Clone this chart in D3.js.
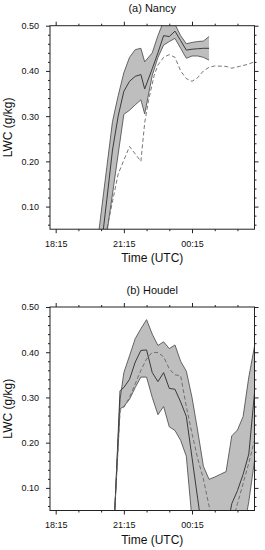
<!DOCTYPE html>
<html>
<head>
<meta charset="utf-8">
<script src="https://cdn.jsdelivr.net/npm/d3@7"></script>
<style>
  body { margin: 0; background: #fff; }
  svg { display: block; font-family: "Liberation Sans", Arial, Helvetica, sans-serif; }
</style>
</head>
<body>
<svg width="265" height="550"></svg>
<script>
// (a) Nancy: ensemble mean, +/- spread, and observation (dashed)
const nancyTimes = ["20:00","20:15","20:30","20:45","21:00","21:15","21:30","21:45","22:00","22:10","22:30",
  "22:45","23:00","23:15","23:30","23:45","00:00","00:15","00:30","00:45","01:00"];
const nancyUpper = [-0.015,0.086,0.187,0.288,0.345,0.396,0.43,0.447,0.45,0.42,0.44,
  0.478,0.51,0.52,0.503,0.478,0.46,0.463,0.465,0.466,0.476];
const nancyMean = [-0.1,0.008,0.115,0.225,0.3,0.355,0.377,0.388,0.392,0.36,0.405,
  0.44,0.478,0.476,0.488,0.467,0.446,0.448,0.449,0.45,0.45];
const nancyLower = [-0.14,-0.05,0.04,0.128,0.216,0.304,0.313,0.325,0.336,0.305,0.39,
  0.43,0.457,0.465,0.472,0.45,0.428,0.433,0.433,0.43,0.424];
const nancyObsTimes = ["20:00","20:30","21:00","21:30","22:00","22:10","22:20","22:35","22:45","23:00","23:15","23:30",
  "23:45","00:00","00:15","00:30","00:45","01:00","01:15","01:45","02:00","02:20","02:40","03:00"];
const nancyObs = [-0.06,0.05,0.172,0.233,0.2,0.285,0.334,0.39,0.413,0.43,0.436,0.43,
  0.4,0.383,0.377,0.385,0.4,0.408,0.411,0.41,0.406,0.41,0.414,0.42];

// (b) Houdel
const houdelTimes = ["20:51","21:05","21:15","21:30","21:45","22:00","22:15","22:30","22:45","23:00","23:15","23:30","23:45",
  "00:00","00:15","00:30","00:45","01:00","01:15","01:30","01:45","02:00","02:15","02:30","02:45","03:00"];
const houdelUpper = [0.05,0.295,0.355,0.392,0.43,0.452,0.472,0.44,0.415,0.423,0.408,0.416,0.38,
  0.358,0.3,0.226,0.148,0.119,0.124,0.13,0.136,0.215,0.228,0.258,0.345,0.413];
const houdelMean = [0.05,0.315,0.322,0.34,0.378,0.404,0.405,0.355,0.335,0.355,0.32,0.318,0.29,
  0.258,0.167,0.076,-0.015,-0.02,-0.02,-0.02,0.0,0.065,0.094,0.13,0.175,0.31];
const houdelLower = [0.05,0.275,0.28,0.296,0.322,0.345,0.345,0.3,0.262,0.28,0.235,0.227,0.205,
  0.17,0.03,0,0,0,0,0,0,0,0,0,0.07,0.16];
const houdelObs = [0.05,0.27,0.278,0.3,0.33,0.36,0.385,0.4,0.399,0.39,0.363,0.35,0.348,
  0.28,0.22,0.165,0.12,0.06,0,0,0,0.02,0.065,0.11,0.155,0.205];

const xMajorLabels = ["18:15","21:15","00:15"];
const xMinorLabels = ["19:15","20:15","22:15","23:15","01:15","02:15"];
const yMajor = [0.1,0.2,0.3,0.4,0.5];
const yMinor = [0.06,0.08,0.12,0.14,0.16,0.18,0.22,0.24,0.26,0.28,0.32,0.34,0.36,0.38,0.42,0.44,0.46,0.48];

// times after midnight belong to the next day
const parseT = s => {
  const [H, M] = s.split(":").map(Number);
  return new Date(2000, 0, H < 12 ? 2 : 1, H, M);
};

const svg = d3.select("svg");
const left = 50, right = 254.5, plotH = 203.5;

const x = d3.scaleTime()
  .domain([parseT("18:00"), parseT("03:00")])
  .range([left, right]);
const y = d3.scaleLinear().domain([0.05, 0.5]).range([plotH, 0]);

function drawPanel(id, title, top, times, upper, mean, lower, obsTimes, obs) {
  const g = svg.append("g").attr("transform", `translate(0,${top})`);

  g.append("clipPath").attr("id", id)
    .append("rect").attr("x", left).attr("y", 0).attr("width", right - left).attr("height", plotH);

  const rows = times.map((t, i) => ({t: parseT(t), hi: upper[i], m: mean[i], lo: lower[i]}));
  const obsRows = obsTimes.map((t, i) => ({t: parseT(t), v: obs[i]}));

  const plot = g.append("g").attr("clip-path", `url(#${id})`);

  plot.append("path").datum(rows)
    .attr("fill", "#bebebe")
    .attr("d", d3.area().x(d => x(d.t)).y0(d => y(d.lo)).y1(d => y(d.hi)));

  const line = key => d3.line().x(d => x(d.t)).y(d => y(d[key]));

  ["hi", "lo"].forEach(k => {
    plot.append("path").datum(rows)
      .attr("fill", "none").attr("stroke", "#555").attr("stroke-width", 0.9)
      .attr("d", line(k));
  });
  plot.append("path").datum(rows)
    .attr("fill", "none").attr("stroke", "#3a3a3a").attr("stroke-width", 1)
    .attr("d", line("m"));
  plot.append("path").datum(obsRows)
    .attr("fill", "none").attr("stroke", "#666").attr("stroke-width", 0.9)
    .attr("stroke-dasharray", "4,2.5")
    .attr("d", line("v"));

  // axes: major + minor, ticks outward on all four sides
  const xMajor = xMajorLabels.map(parseT), xMinor = xMinorLabels.map(parseT);
  const fmt = d3.timeFormat("%H:%M");

  const addAxis = (axis, tr) => {
    const a = g.append("g").attr("transform", tr).call(axis);
    a.select(".domain").remove();
    a.selectAll("line").attr("stroke", "#222");
    a.selectAll("text").attr("font-size", 9).attr("fill", "#111")
      .attr("font-family", "'Liberation Sans', Arial, sans-serif");
    return a;
  };

  addAxis(d3.axisBottom(x).tickValues(xMajor).tickFormat(fmt).tickSize(4).tickPadding(7.5), `translate(0,${plotH})`);
  addAxis(d3.axisBottom(x).tickValues(xMinor).tickFormat("").tickSize(2), `translate(0,${plotH})`);
  addAxis(d3.axisTop(x).tickValues(xMajor).tickFormat("").tickSize(4), "translate(0,0)");
  addAxis(d3.axisTop(x).tickValues(xMinor).tickFormat("").tickSize(2), "translate(0,0)");
  addAxis(d3.axisLeft(y).tickValues(yMajor).tickFormat(d3.format(".2f")).tickSize(4).tickPadding(7), `translate(${left},0)`);
  addAxis(d3.axisLeft(y).tickValues(yMinor).tickFormat("").tickSize(2), `translate(${left},0)`);
  addAxis(d3.axisRight(y).tickValues(yMajor).tickFormat("").tickSize(4), `translate(${right},0)`);
  addAxis(d3.axisRight(y).tickValues(yMinor).tickFormat("").tickSize(2), `translate(${right},0)`);

  g.append("rect")
    .attr("x", left).attr("y", 0).attr("width", right - left).attr("height", plotH)
    .attr("fill", "none").attr("stroke", "#222").attr("stroke-width", 1);

  g.append("text")
    .attr("x", (left + right) / 2).attr("y", -13.5)
    .attr("text-anchor", "middle").attr("font-size", 11).attr("fill", "#111")
    .text(title);

  g.append("text")
    .attr("x", (left + right) / 2).attr("y", plotH + 33)
    .attr("text-anchor", "middle").attr("font-size", 12).attr("fill", "#111")
    .text("Time (UTC)");

  g.append("text")
    .attr("transform", `translate(12,${plotH / 2}) rotate(-90)`)
    .attr("text-anchor", "middle").attr("font-size", 12).attr("fill", "#111")
    .text("LWC (g/kg)");
}

drawPanel("clipA", "(a) Nancy", 25.7, nancyTimes, nancyUpper, nancyMean, nancyLower, nancyObsTimes, nancyObs);
drawPanel("clipB", "(b) Houdel", 307, houdelTimes, houdelUpper, houdelMean, houdelLower, houdelTimes, houdelObs);
</script>
</body>
</html>
